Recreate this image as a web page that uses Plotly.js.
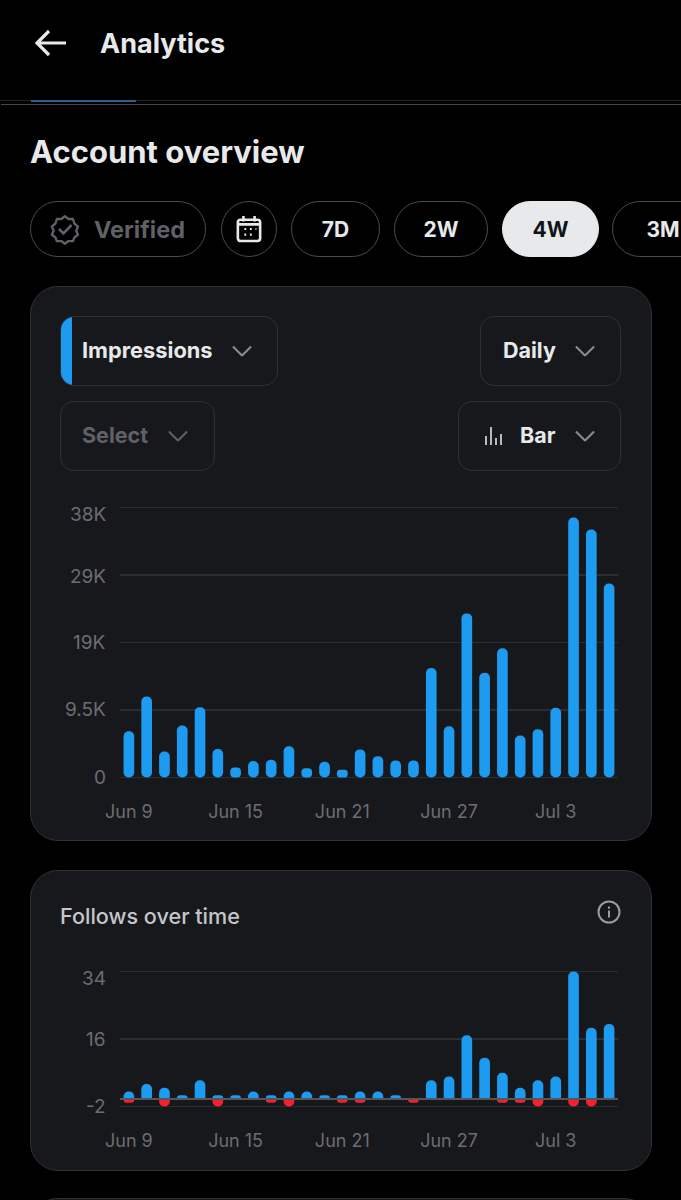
<!DOCTYPE html>
<html lang="en">
<head>
    <meta charset="UTF-8">
    <title>Analytics</title>
    <script src="https://cdn.plot.ly/plotly-3.0.1.min.js"></script>
    <style>
        html, body { margin: 0; padding: 0; background: #000; }
        body { position: relative; width: 681px; height: 1200px; overflow: hidden; font-family: Inter, sans-serif; color: #e7e9ea; }
        .abs { position: absolute; }
        .txt { position: absolute; white-space: nowrap; line-height: 1; }
        .pill { position: absolute; top: 201px; height: 54px; border: 1px solid #4a4b4e; border-radius: 28px;
                display: flex; align-items: center; justify-content: center; font-size: 21px; font-weight: 700; box-sizing: content-box; }
        .card { position: absolute; left: 30px; width: 620px; background: #17181c; border: 1px solid #303136; border-radius: 28px; }
        .drop { position: absolute; box-sizing: border-box; border: 1px solid #2e3035; border-radius: 14px; overflow: hidden;
                font-size: 21.5px; font-weight: 700; }
        .drop span { position: absolute; top: 50%; transform: translateY(-52%); white-space: nowrap; }
        .drop svg { position: absolute; top: 50%; transform: translateY(-50%); }
        .plot { position: absolute; left: 0; width: 681px; }
    </style>
</head>

<body>

<svg class="abs" style="left:33px;top:28px" width="36" height="30" viewBox="0 0 36 30" fill="none" stroke="#e7e9ea" stroke-width="3.2">
    <path d="M33 15H4M16 3L4 15L16 27"/>
</svg>
<div class="txt" style="left:100px;top:30px;font-size:27px;font-weight:700">Analytics</div>

<div class="abs" style="left:0;top:100px;width:681px;height:1px;background:#222"></div>
<div class="abs" style="left:31px;top:100px;width:105px;height:2px;background:#2f5f8e"></div>
<div class="abs" style="left:1px;top:104px;width:680px;height:1px;background:#48484a"></div>

<div class="txt" style="left:30px;top:136px;font-size:31px;font-weight:700">Account overview</div>

<div class="pill" style="left:30px;width:174px;color:#5f6166;justify-content:flex-start">
    <svg style="margin-left:18px" width="32" height="32" viewBox="0 0 32 32" fill="none" stroke="#5f6166" stroke-width="2.6">
        <path d="M16 2l4 3 5 0 1.500 5 4 3.500-2 4.500 2 4.500-4 3-1.500 4-5 0-4 3-4-3-5 0-1.500-4-4-3 2-4.500-2-4.500 4-3.500 1.500-5 5 0z" stroke-linejoin="round" transform="translate(1.500 1.500) scale(.9)"/>
        <path d="M10 16l4.500 4.500 8-8.500"/>
    </svg>
    <span style="margin-left:13px;font-size:23.500px">Verified</span>
</div>
<div class="pill" style="left:221px;width:54px">
    <svg width="26" height="28" viewBox="0 0 28 30" fill="none" stroke="#e7e9ea" stroke-width="2.800">
        <rect x="2" y="5" width="24" height="23" rx="3"/>
        <path d="M2 10h24M8 1v6M20 1v6"/>
        <path d="M9 15h2M15 15h2M21 15h1M9 21h2M15 21h2" stroke-width="2.400"/>
    </svg>
</div>
<div class="pill" style="left:291px;width:87px">7D</div>
<div class="pill" style="left:394px;width:92px">2W</div>
<div class="pill" style="left:502px;width:95px;background:#e7e9ea;color:#0f1419;border-color:#e7e9ea">4W</div>
<div class="pill" style="left:612px;width:100px">3M</div>

<div class="card" style="top:286px;height:553px"></div>
<div class="card" style="top:870px;height:299px"></div>
<div class="card" style="top:1198px;height:60px"></div>

<div class="drop" style="left:60px;top:316px;width:218px;height:70px">
    <div class="abs" style="left:0;top:0;width:11px;height:70px;background:#1d9bf0"></div>
    <span style="left:21px;font-size:21.800px">Impressions</span>
    <svg style="left:171px" width="20" height="11" viewBox="0 0 22 12" fill="none" stroke="#8a8c90" stroke-width="2.200"><path d="M1 1l10 10L21 1"/></svg>
</div>
<div class="drop" style="left:480px;top:316px;width:141px;height:70px">
    <span style="left:22px">Daily</span>
    <svg style="left:94px" width="20" height="11" viewBox="0 0 22 12" fill="none" stroke="#8a8c90" stroke-width="2.200"><path d="M1 1l10 10L21 1"/></svg>
</div>
<div class="drop" style="left:60px;top:401px;width:155px;height:70px;color:#5f6166">
    <span style="left:21px">Select</span>
    <svg style="left:107px" width="20" height="11" viewBox="0 0 22 12" fill="none" stroke="#5f6166" stroke-width="2.200"><path d="M1 1l10 10L21 1"/></svg>
</div>
<div class="drop" style="left:458px;top:401px;width:163px;height:70px">
    <svg style="left:25px" width="18" height="20" viewBox="0 0 18 20" fill="none" stroke="#b8babd" stroke-width="2"><path d="M2 10v9M7 1v18M12 12v7M17 8v11"/></svg>
    <span style="left:61px">Bar</span>
    <svg style="left:116px" width="20" height="11" viewBox="0 0 22 12" fill="none" stroke="#8a8c90" stroke-width="2.200"><path d="M1 1l10 10L21 1"/></svg>
</div>

<div class="txt" style="left:60px;top:906px;font-size:21.600px;font-weight:500;color:#c4c6c9">Follows over time</div>
<svg class="abs" style="left:597px;top:900px" width="24" height="24" viewBox="0 0 24 24" fill="none" stroke="#9a9ca0" stroke-width="2">
    <circle cx="12" cy="12" r="10.500"/>
    <path d="M12 10.500v7M12 6.500v2.200"/>
</svg>

<div class="plot" id="impressionsPlot" style="top:490px;height:340px"></div>
<div class="plot" id="followsPlot" style="top:950px;height:210px"></div>

<script>

    const days = ['Jun 9', 'Jun 10', 'Jun 11', 'Jun 12', 'Jun 13', 'Jun 14', 'Jun 15', 'Jun 16', 'Jun 17', 'Jun 18',
        'Jun 19', 'Jun 20', 'Jun 21', 'Jun 22', 'Jun 23', 'Jun 24', 'Jun 25', 'Jun 26', 'Jun 27', 'Jun 28',
        'Jun 29', 'Jun 30', 'Jul 1', 'Jul 2', 'Jul 3', 'Jul 4', 'Jul 5', 'Jul 6']
    const dayTicks = ['Jun 9', 'Jun 15', 'Jun 21', 'Jun 27', 'Jul 3']

    const impressions = [6500, 11400, 3660, 7300, 9900, 4000, 1400, 2300, 2500, 4400,
        1300, 2200, 1100, 3950, 3000, 2400, 2400, 15400, 7200, 23100,
        14750, 18200, 5900, 6800, 9800, 36600, 34900, 27300]
    const impressionTicks = [0, 9500, 19000, 28500, 38000]
    const impressionLabels = ['0', '9.5K', '19K', '29K', '38K']
    const impressionLabelShift = [0, 0, 0, -1, -7]

    const followsGained = [2, 4, 3, 1, 5, 1, 1, 2, 1, 2,
        2, 1, 1, 2, 2, 1, 0, 5, 6, 17,
        11, 7, 3, 5, 6, 34, 19, 20]
    const followsLost = [-1, 0, -2, 0, 0, -2, 0, 0, -1, -2,
        0, 0, -1, -1, 0, 0, -1, 0, 0, 0,
        0, -1, -1, -2, 0, -2, -2, 0]
    const followTicks = [-2, 16, 34]
    const followLabelShift = [0, 0, -7]

    const blue = '#1d9bf0'
    const red = '#f4212e'
    const gridColor = '#2c2d31'
    const tickColor = '#6b6d71'
    const font = { family: 'Inter, sans-serif', size: 19, color: tickColor }

    // y labels sit a little off their gridlines in the app, so they are annotations instead of axis ticks
    function yLabels(ticks, labels, shifts) {
        return ticks.map((t, i) => ({
            xref: 'paper', yref: 'y', x: -0.026, y: t, text: labels[i], xanchor: 'right', yanchor: 'middle',
            yshift: shifts[i], showarrow: false, font: font, borderpad: 0
        }))
    }

    function xAxis() {
        return {
            type: 'category', categoryorder: 'array', categoryarray: days, range: [-0.5, 27.5],
            tickmode: 'array', tickvals: dayTicks, ticktext: dayTicks, ticks: '', showgrid: false,
            zeroline: false, showline: false, ticklabelstandoff: 20,
            tickfont: { family: 'Inter, sans-serif', size: 18, color: tickColor }
        }
    }

    function baseLayout() {
        return {
            width: 681,
            paper_bgcolor: 'rgba(0,0,0,0)',
            plot_bgcolor: 'rgba(0,0,0,0)',
            font: font,
            showlegend: false,
            barmode: 'overlay'
        }
    }

    // a bar with a base gets its corners rounded on both ends
    const impressionBars = {
        x: days, y: impressions, base: impressions.map(() => 0), type: 'bar', width: 0.6,
        marker: { color: blue, cornerradius: 5, line: { width: 0 } }
    }

    // ranges run a bit past the outer ticks, otherwise plotly drops those gridlines
    const impressionsLayout = Object.assign(baseLayout(), {
        height: 340,
        margin: { l: 120, r: 63.3, t: 16.1, b: 51.1 },
        xaxis: xAxis(),
        yaxis: {
            range: [-220, 38220], tickmode: 'array', tickvals: impressionTicks, showticklabels: false,
            gridcolor: gridColor, gridwidth: 1.5, zeroline: false, ticks: ''
        },
        annotations: yLabels(impressionTicks, impressionLabels, impressionLabelShift)
    })

    const gained = {
        x: days, y: followsGained, type: 'bar', width: 0.6,
        marker: { color: blue, cornerradius: 5, line: { width: 0 } }
    }
    const lost = {
        x: days, y: followsLost, type: 'bar', width: 0.6,
        marker: { color: red, cornerradius: 5, line: { width: 0 } }
    }

    const followsLayout = Object.assign(baseLayout(), {
        height: 210,
        margin: { l: 120, r: 63.3, t: 19.5, b: 51.5 },
        xaxis: xAxis(),
        yaxis: {
            range: [-2.4, 34.4], tickmode: 'array', tickvals: followTicks, showticklabels: false,
            gridcolor: gridColor, gridwidth: 1.5, zeroline: true, zerolinecolor: '#55565a', zerolinewidth: 2,
            zerolinelayer: 'above traces', ticks: ''
        },
        annotations: yLabels(followTicks, followTicks.map(String), followLabelShift)
    })

    const config = { staticPlot: true, displayModeBar: false }

    Plotly.newPlot('impressionsPlot', [impressionBars], impressionsLayout, config)
    Plotly.newPlot('followsPlot', [gained, lost], followsLayout, config)

</script>

</body>
</html>
